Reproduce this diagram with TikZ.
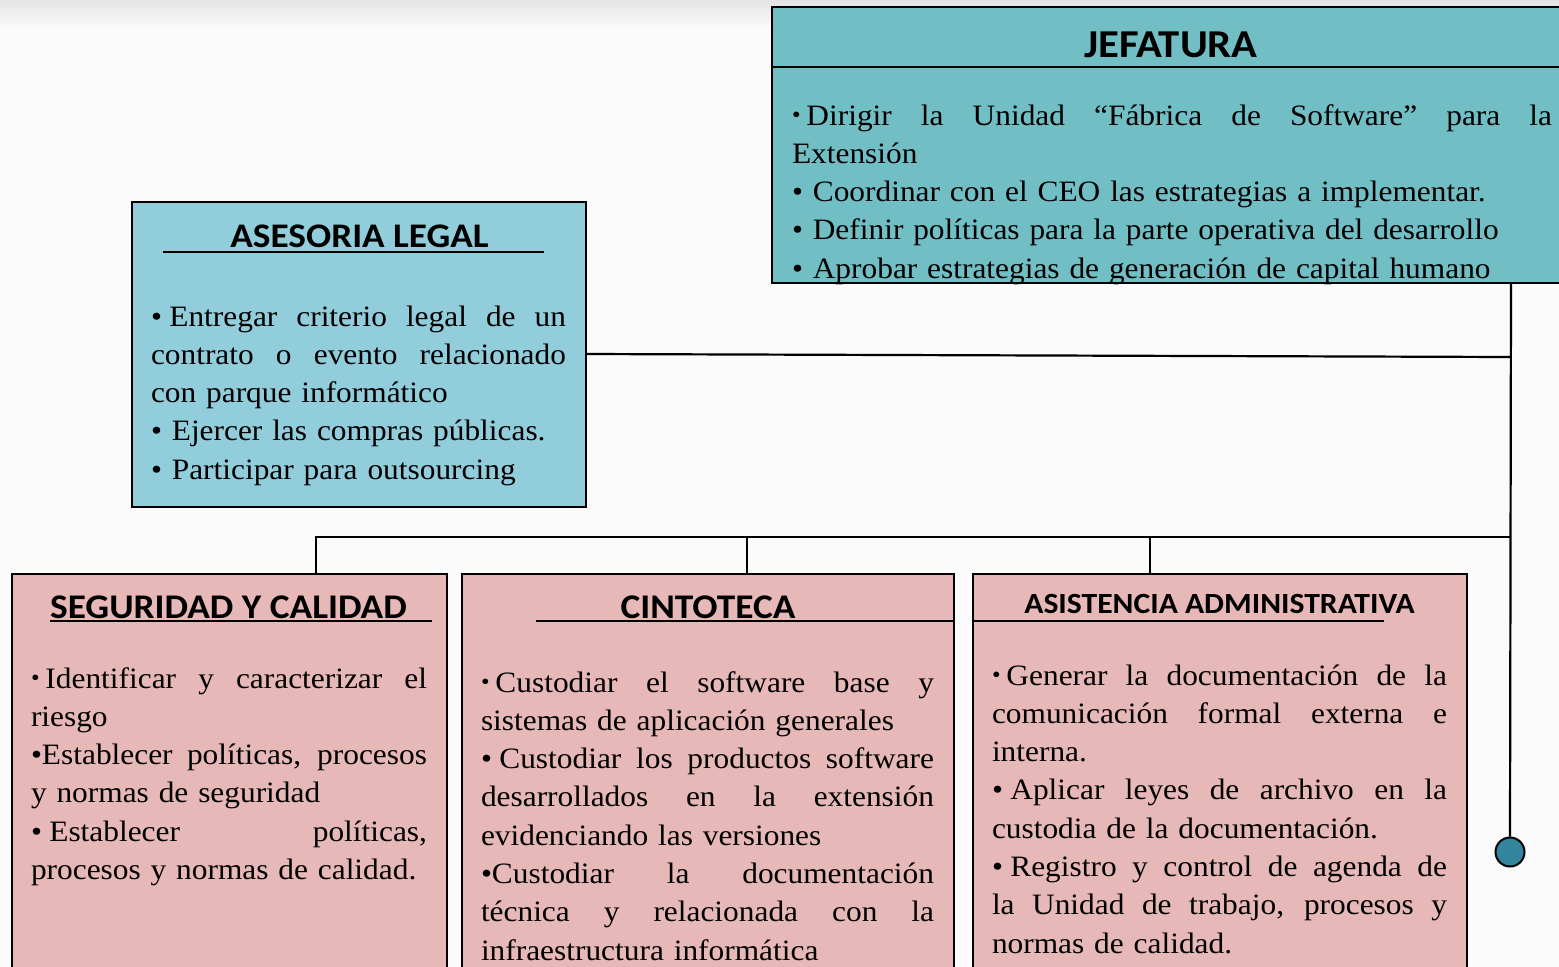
\documentclass[tikz,border=0pt]{standalone}
\usepackage{fontspec}
\usepackage{graphicx}
\setmainfont{Liberation Serif}[FakeStretch=1.06]
\newfontfamily\headfont{Carlito}[FakeStretch=1.08]
\definecolor{bgc}{HTML}{FBFBFB}
\definecolor{shadec}{HTML}{E4E4E4}
\definecolor{jefc}{HTML}{71BEC5}
\definecolor{asec}{HTML}{92CDDC}
\definecolor{pinkc}{HTML}{E6B8B7}
\definecolor{dotc}{HTML}{31859C}
\newlength\jw
\newcommand\jl[1]{\leavevmode\hbox to \jw{\spaceskip=\fontdimen2\font plus 1fil\relax #1}}
\newcommand\smbul{\raisebox{0.07em}{\scalebox{0.78}{\textbullet}}}
\newcommand\bodyfont{\fontsize{29.6}{38.3}\selectfont}
\tikzset{
  box/.style={draw=black, line width=2pt, anchor=north west, inner sep=0pt, outer sep=0pt},
  body/.style={anchor=base west, inner sep=0pt, outer sep=0pt, align=left, font=\bodyfont,
    text width=#1, execute at begin node={\setlength{\jw}{#1}}},
  title/.style={anchor=base, inner sep=0pt, font=\headfont\bfseries\fontsize{#1}{#1}\selectfont},
  conn/.style={draw=black, line width=2.2pt},
  uline/.style={draw=black, line width=2pt}
}
\begin{document}
\begin{tikzpicture}[x=1pt,y=-1pt]
\useasboundingbox (0,0) rectangle (1559,967);
\clip (0,0) rectangle (1559,967);
\fill[bgc] (0,0) rectangle (1559,967);
\shade[top color=shadec, bottom color=bgc] (0,0) rectangle (1559,28);

% boxes
\node[box, fill=jefc, minimum width=800pt, minimum height=276pt] (jef) at (772,7) {};
\node[box, fill=asec, minimum width=454pt, minimum height=305pt] (ase) at (132,202) {};
\node[box, fill=pinkc, minimum width=435pt, minimum height=420pt] (seg) at (12,574) {};
\node[box, fill=pinkc, minimum width=492pt, minimum height=420pt] (cin) at (462,574) {};
\node[box, fill=pinkc, minimum width=494pt, minimum height=420pt] (asis) at (973,574) {};

% jefatura divider
\draw[uline] (772,67) -- (1570,67);

% connectors
\coordinate (spineTop) at (1511,283);
\coordinate (jA) at (1511,357);
\coordinate (jB) at (1511,537);
\coordinate (hSeg) at (316,537);
\coordinate (hCin) at (747,537);
\coordinate (hAsis) at (1150,537);
\node[circle, draw=black, line width=2pt, fill=dotc, minimum width=29pt, minimum height=29pt, inner sep=0pt] (enddot) at (1510,852) {};
\draw[conn] (ase.east |- 0,354) -- (jA);
\draw[conn] (spineTop) -- (enddot.north);
\draw[conn] (jB) -- (hSeg) -- (seg.north -| hSeg);
\draw[conn] (hCin) -- (cin.north -| hCin);
\draw[conn] (hAsis) -- (asis.north -| hAsis);

% titles
\node[title=39.5] (tjef) at (1171,57) {JEFATURA};
\node[title=34.5] (tase) at (359.5,247) {ASESORIA LEGAL};
\draw[uline] (163,252) -- (544,252);
\node[title=34.6] (tseg) at (228.5,618) {SEGURIDAD Y CALIDAD};
\draw[uline] (50,621) -- (432,621);
\node[title=34.6] (tcin) at (708,618) {CINTOTECA};
\draw[uline] (536,621) -- (954,621);
\node[title=29.3] (tasis) at (1219.5,613) {ASISTENCIA ADMINISTRATIVA};
\draw[uline] (973,621) -- (1384,621);

% body texts
\node[body=760pt] (bjef) at (792,125) {%
\jl{\smbul\hspace{0.2em}Dirigir la Unidad “Fábrica de Software” para la}\\
Extensión\\
\textbullet\ Coordinar con el CEO las estrategias a implementar.\\
\textbullet\ Definir políticas para la parte operativa del desarrollo\\
\textbullet\ Aprobar estrategias de generación de capital humano};

\node[body=415pt] (base) at (151,326) {%
\jl{\textbullet\hspace{0.25em}Entregar criterio legal de un}\\
\jl{contrato o evento relacionado}\\
con parque informático\\
\textbullet\ Ejercer las compras públicas.\\
\textbullet\ Participar para outsourcing};

\node[body=396pt] (bseg) at (31,688) {%
\jl{\smbul\hspace{0.2em}Identificar y caracterizar el}\\
riesgo\\
\jl{\textbullet Establecer políticas, procesos}\\
y normas de seguridad\\
\jl{\textbullet\hspace{0.25em}Establecer políticas,}\\
procesos y normas de calidad.};

\node[body=453pt] (bcin) at (481,692) {%
\jl{\smbul\hspace{0.2em}Custodiar el software base y}\\
sistemas de aplicación generales\\
\jl{\textbullet\hspace{0.25em}Custodiar los productos software}\\
\jl{desarrollados en la extensión}\\
evidenciando las versiones\\
\jl{\textbullet Custodiar la documentación}\\
\jl{técnica y relacionada con la}\\
infraestructura informática};

\node[body=455pt] (basis) at (992,685) {%
\jl{\smbul\hspace{0.2em}Generar la documentación de la}\\
\jl{comunicación formal externa e}\\
interna.\\
\jl{\textbullet\hspace{0.25em}Aplicar leyes de archivo en la}\\
custodia de la documentación.\\
\jl{\textbullet\hspace{0.25em}Registro y control de agenda de}\\
\jl{la Unidad de trabajo, procesos y}\\
normas de calidad.};
\end{tikzpicture}
\end{document}
